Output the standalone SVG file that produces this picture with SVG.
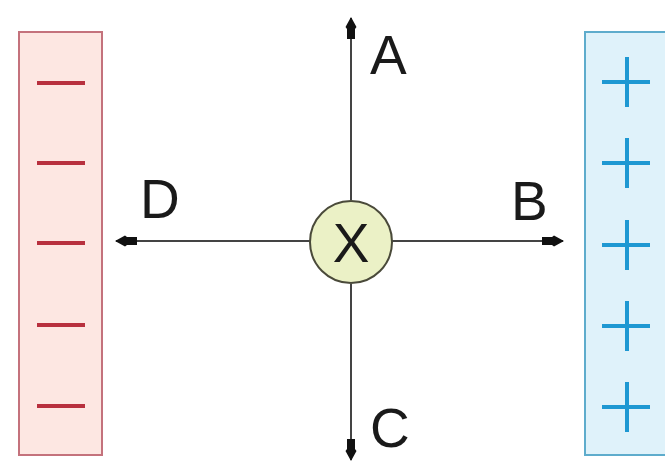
<svg xmlns="http://www.w3.org/2000/svg" width="665" height="462" viewBox="0 0 665 462">
<style>
.lbl{font-family:"Liberation Sans",Arial,sans-serif;font-size:55px;fill:#1a1a1a}
.ax{stroke:#444;stroke-width:2;fill:none}
.minus{stroke:#b8303e;stroke-width:4;stroke-linecap:butt}
.plus{stroke:#1e98d2;stroke-width:4}
</style>
<defs>
<marker id="ah" viewBox="0 0 22 12" refX="21" refY="6" markerWidth="22" markerHeight="12" markerUnits="userSpaceOnUse" orient="auto">
<path d="M0,2 L10,2 L12,0.5 L22,6 L12,11.5 L10,10 L0,10 Z" fill="#111"/>
</marker>
</defs>
<rect width="665" height="462" fill="#fff"/>
<g id="negative-plate">
<rect x="19" y="32" width="83" height="423" fill="#fde7e2" stroke="#c4727c" stroke-width="2"/>
<line class="minus" x1="37" y1="83" x2="85" y2="83"/>
<line class="minus" x1="37" y1="163" x2="85" y2="163"/>
<line class="minus" x1="37" y1="243" x2="85" y2="243"/>
<line class="minus" x1="37" y1="325" x2="85" y2="325"/>
<line class="minus" x1="37" y1="406" x2="85" y2="406"/>
</g>
<g id="positive-plate">
<rect x="585" y="32" width="90" height="423" fill="#dff2fa" stroke="#5eaccc" stroke-width="2"/>
<g class="plus">
<line x1="602" y1="82" x2="650" y2="82"/><line x1="627" y1="57" x2="627" y2="107"/>
<line x1="602" y1="163" x2="650" y2="163"/><line x1="627" y1="138" x2="627" y2="188"/>
<line x1="602" y1="245" x2="650" y2="245"/><line x1="627" y1="220" x2="627" y2="270"/>
<line x1="602" y1="326" x2="650" y2="326"/><line x1="627" y1="301" x2="627" y2="351"/>
<line x1="602" y1="407" x2="650" y2="407"/><line x1="627" y1="382" x2="627" y2="432"/>
</g>
</g>
<g id="connectors">
<line class="ax" x1="351" y1="200" x2="351" y2="18" marker-end="url(#ah)"/>
<line class="ax" x1="351" y1="284" x2="351" y2="460" marker-end="url(#ah)"/>
<line class="ax" x1="310" y1="241" x2="116" y2="241" marker-end="url(#ah)"/>
<line class="ax" x1="392" y1="241" x2="563" y2="241" marker-end="url(#ah)"/>
</g>
<g id="particle">
<circle cx="351" cy="242" r="41" fill="#ebf1c6" stroke="#4a4a3a" stroke-width="2"/>
<text class="lbl" x="351" y="262" text-anchor="middle" font-size="56">X</text>
</g>
<g id="label-A"><text class="lbl" x="370" y="74">A</text></g>
<g id="label-B"><text class="lbl" x="511" y="220">B</text></g>
<g id="label-C"><text class="lbl" x="370" y="447">C</text></g>
<g id="label-D"><text class="lbl" x="140" y="218">D</text></g>
</svg>
